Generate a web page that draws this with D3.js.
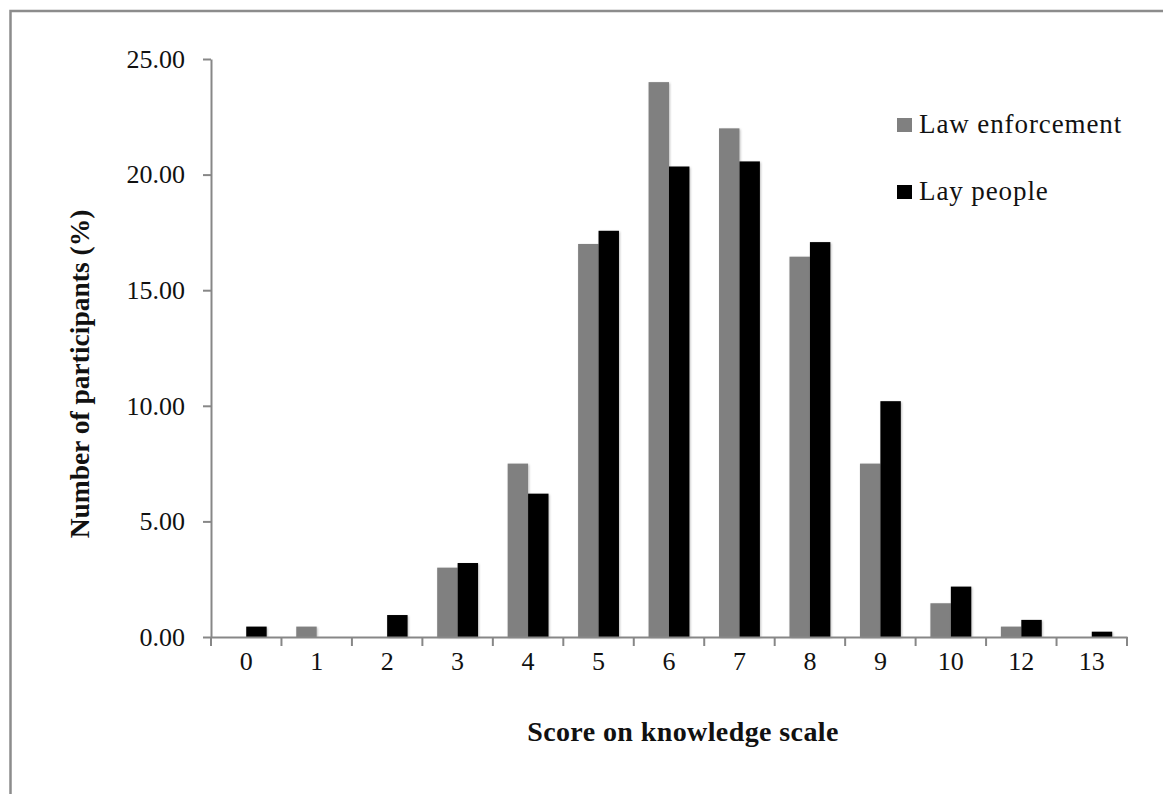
<!DOCTYPE html>
<html>
<head>
<meta charset="utf-8">
<script src="https://cdn.jsdelivr.net/npm/d3@7"></script>
<style>
  html, body { margin: 0; padding: 0; background: #fff; }
  svg { display: block; }
  text { font-family: "Liberation Serif", "Times New Roman", serif; fill: #111; }
</style>
</head>
<body>
<svg id="chart" width="1163" height="794"></svg>
<script>
// ---- data ----
const categories = ["0", "1", "2", "3", "4", "5", "6", "7", "8", "9", "10", "12", "13"];
const seriesNames = ["Law enforcement", "Lay people"];
const lawEnforcement = [0, 0.45, 0, 3.0, 7.5, 17.0, 24.0, 22.0, 16.45, 7.5, 1.46, 0.45, 0];
const layPeople = [0.45, 0, 0.95, 3.2, 6.2, 17.57, 20.35, 20.57, 17.08, 10.2, 2.18, 0.74, 0.23];
const yTicks = [0, 5, 10, 15, 20, 25];
const seriesColors = ["#808080", "#000000"];

// ---- layout ----
const svg = d3.select("#chart");
const plotLeft = 211, plotRight = 1127, plotTop = 59, plotBottom = 637;
const axisColor = "#878787";

// outer frame
svg.append("rect")
  .attr("x", 10.5).attr("y", 11).attr("width", 1170).attr("height", 800)
  .attr("fill", "none").attr("stroke", "#8c8c8c").attr("stroke-width", 2.5);

// shadow filter
const defs = svg.append("defs");
const f = defs.append("filter").attr("id", "shadow").attr("x", "-20%").attr("y", "-5%").attr("width", "140%").attr("height", "110%");
f.append("feDropShadow").attr("dx", 1).attr("dy", 1).attr("stdDeviation", 1.2).attr("flood-color", "#000").attr("flood-opacity", 0.25);

const x0 = d3.scaleBand().domain(categories).range([plotLeft, plotRight]).padding(0);
const bw = x0.bandwidth();
const x1 = d3.scaleBand().domain(seriesNames).range([bw * 0.21, bw * 0.79]).padding(0);
const y = d3.scaleLinear().domain([0, 25]).range([plotBottom, plotTop]);

const seriesValues = [lawEnforcement, layPeople];

// bars
const g = svg.append("g");
seriesNames.forEach((s, si) => {
  g.selectAll(null)
    .data(categories.map((c, i) => ({ c, v: seriesValues[si][i] })).filter(d => d.v > 0))
    .enter().append("rect")
    .attr("x", d => x0(d.c) + x1(s))
    .attr("y", d => y(d.v))
    .attr("width", x1.bandwidth())
    .attr("height", d => y(0) - y(d.v))
    .attr("fill", seriesColors[si])
    .attr("filter", "url(#shadow)");
});

// y axis
const yAxis = d3.axisLeft(y).tickValues(yTicks).tickFormat(d3.format(".2f")).tickSize(8).tickSizeOuter(0).tickPadding(18);
const yg = svg.append("g").attr("transform", `translate(${plotLeft},0)`).call(yAxis);
yg.select(".domain").attr("stroke", axisColor).attr("stroke-width", 2);
yg.selectAll(".tick line").attr("stroke", axisColor).attr("stroke-width", 2);
yg.selectAll(".tick text").attr("font-family", "Liberation Serif").attr("font-size", 26).attr("fill", "#111");

// x axis: labels at centres
const xAxis = d3.axisBottom(x0).tickSize(0).tickSizeOuter(0).tickPadding(30);
const xg = svg.append("g").attr("transform", `translate(0,${plotBottom})`).call(xAxis);
xg.select(".domain").attr("stroke", axisColor).attr("stroke-width", 2);
xg.selectAll(".tick text").attr("font-family", "Liberation Serif").attr("font-size", 26).attr("fill", "#111").attr("dy", "0.1em");
// boundary ticks
const bounds = categories.map(c => x0(c)).concat([x0.range()[1]]);
xg.selectAll(".btick").data(bounds).enter().append("line")
  .attr("x1", d => d).attr("x2", d => d).attr("y1", 0).attr("y2", 9)
  .attr("stroke", axisColor).attr("stroke-width", 2);

// axis titles
svg.append("text")
  .attr("x", (plotLeft + plotRight) / 2 + 14).attr("y", 741)
  .attr("text-anchor", "middle").attr("font-weight", "bold").attr("font-size", 28)
  .attr("letter-spacing", 0.4)
  .text("Score on knowledge scale");

svg.append("text")
  .attr("transform", `translate(89,374) rotate(-90)`)
  .attr("text-anchor", "middle").attr("font-weight", "bold").attr("font-size", 27.5)
  .text("Number of participants (%)");

// legend
const legendY = [118, 185];
seriesNames.forEach((s, i) => {
  svg.append("rect").attr("x", 897).attr("y", legendY[i]).attr("width", 15).attr("height", 14)
    .attr("fill", seriesColors[i]);
  svg.append("text").attr("x", 919).attr("y", legendY[i] + 15)
    .attr("font-size", 27).attr("letter-spacing", 0.9).text(s);
});
</script>
</body>
</html>
